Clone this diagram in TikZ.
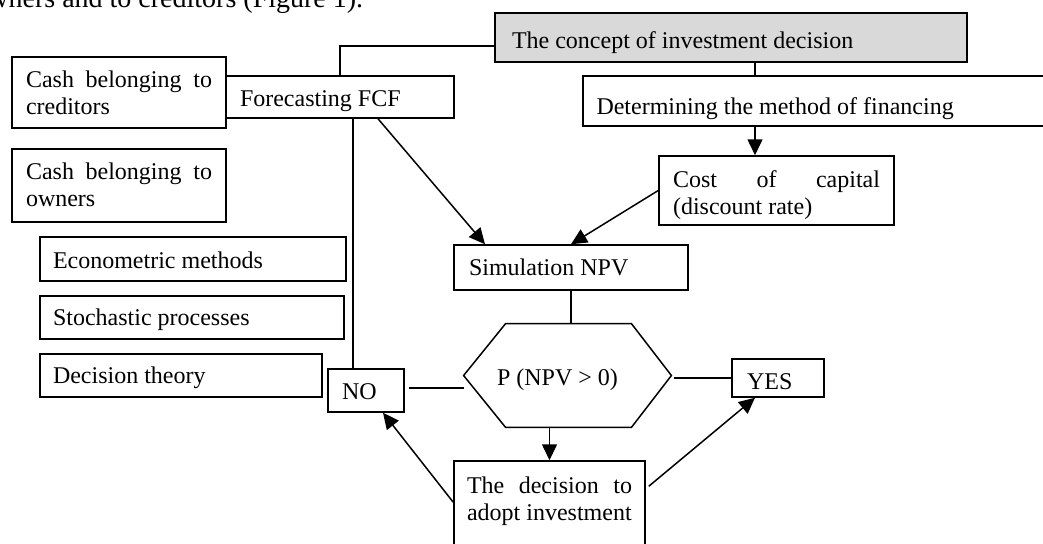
\documentclass[tikz,border=0pt]{standalone}
\usepackage{fontspec}
\setmainfont{Liberation Serif}
\usetikzlibrary{arrows.meta}
\definecolor{conceptgray}{RGB}{217,217,217}
\hyphenpenalty=10000
\tolerance=9000
\begin{document}
\begin{tikzpicture}[x=0.5pt,y=-0.5pt,
  line/.style={line width=0.75pt},
  arr/.style={line width=0.75pt,-{Triangle[length=8pt,width=7.5pt]}},
  box/.style={draw,line width=0.75pt,fill=white,inner ysep=0pt,align=flush left,text height=8pt,text depth=0pt},
  jbox/.style={draw,line width=0.75pt,fill=white,inner ysep=0pt,align=justify,text height=9pt},
  every node/.style={font=\fontsize{12pt}{13.8pt}\selectfont}]
\useasboundingbox (0,0) rectangle (1043,543);
\clip (0,0) rectangle (1043,543);

\node[anchor=base west,inner sep=0pt,font=\fontsize{14pt}{16pt}\selectfont] (caption) at (-12,7) {wners and to creditors (Figure 1).};

\node[box,fill=conceptgray,minimum width=236pt,minimum height=24.5pt,text width=219pt,inner xsep=8.5pt,text height=11pt] (concept) at (731,37.5) {The concept of investment decision};
\node[box,minimum height=25pt,text width=236.5pt,inner xsep=6.75pt,text height=13pt] (determ) at (833,101) {Determining the method of financing};
\node[box,minimum height=21pt,text width=100pt,inner xsep=7pt,text height=9.5pt] (fcf) at (340,97) {Forecasting FCF};
\node[jbox,minimum height=35.5pt,text width=93pt,inner xsep=7pt,text depth=14.5pt] (cred) at (119,92.5) {Cash belonging to creditors};
\node[jbox,minimum height=36.5pt,text width=93pt,inner xsep=7pt,text depth=15.5pt] (owners) at (119,185.5) {Cash belonging to owners};
\node[box,minimum height=22pt,text width=140pt,inner xsep=6.5pt,text height=9pt] (econ) at (193,259) {Econometric methods};
\node[box,minimum height=21.5pt,text width=139pt,inner xsep=6.5pt] (stoch) at (192,317.5) {Stochastic processes};
\node[box,minimum height=21.5pt,text width=128pt,inner xsep=6.5pt] (dtheory) at (181,375.5) {Decision theory};
\node[jbox,minimum height=34.5pt,text width=103.5pt,inner xsep=7pt,text depth=12.5pt] (cost) at (776.5,190.5) {Cost of capital (discount rate)};
\node[box,minimum height=22.5pt,text width=102pt,inner xsep=7.5pt] (sim) at (571,267.5) {Simulation NPV};
\node[inner ysep=0pt,minimum height=51.5pt,text width=70.5pt,inner xsep=16.5pt,align=flush left,text height=9.5pt,text depth=0pt] (hex) at (567.5,375.5) {P (NPV > 0)};
\node[box,minimum height=21.5pt,text width=24pt,inner xsep=7pt,text height=9pt] (no) at (366,390.5) {NO};
\node[box,minimum height=19pt,text width=31pt,inner xsep=7.5pt,text height=11pt] (yes) at (778,378) {YES};
\node[jbox,minimum height=60pt,text width=82.5pt,inner xsep=6.5pt,text depth=37pt] (dec) at (549.5,521) {The decision to adopt investment};

\draw[line] (hex.west) -- ([xshift=21pt]hex.north west) -- ([xshift=-20pt]hex.north east) -- (hex.east) -- ([xshift=-20pt]hex.south east) -- ([xshift=21pt]hex.south west) -- cycle;

\coordinate (vx) at (353,0);
\draw[line] ([yshift=-4.25pt]concept.west) -| (fcf.north);
\draw[line] ([xshift=12pt]concept.south) -- ([xshift=12pt]concept.south |- determ.north);
\draw[arr] ([xshift=12pt]concept.south |- determ.south) -- ([xshift=12pt]concept.south |- cost.north);
\draw[line] (fcf.south -| vx) -- (no.north -| vx);
\draw[arr] ([xshift=19pt]fcf.south) -- ([xshift=-43pt]sim.north);
\draw[arr] (cost.west) -- (sim.north);
\draw[line] (sim.south) -- (sim.south |- hex.north);
\draw[line] ([xshift=2pt,yshift=1.25pt]no.east) -- ([yshift=1.25pt]no.east -| hex.west);
\draw[line] ([xshift=1.5pt]hex.east |- yes.west) -- (yes.west);
\draw[arr] (dec.north |- hex.south) -- (dec.north);
\draw[arr] ([yshift=-21pt]dec.north west) -- ([xshift=8.5pt]no.south);
\draw[arr] ([xshift=1.5pt,yshift=-13pt]dec.north east) -- ([xshift=-11.5pt]yes.south);
\end{tikzpicture}
\end{document}
